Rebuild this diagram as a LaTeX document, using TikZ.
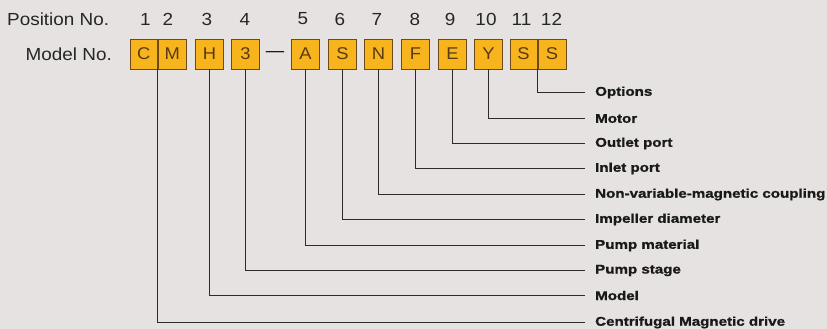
\documentclass[tikz,border=0pt]{standalone}
\usepackage{fontspec}
\setmainfont{Liberation Sans}[FakeStretch=1.08]
\newfontfamily\descfont{Liberation Sans}[FakeStretch=1.2,FakeBold=1.2]
\begin{document}
\begin{tikzpicture}[x=1pt,y=-1pt,
  codebox/.style={draw=boxedge,fill=boxfill,line width=0.9pt,minimum height=30pt,inner sep=0pt,text=boxtext,font=\fontsize{17}{17}\selectfont},
  posnum/.style={font=\fontsize{17.5}{18}\selectfont,text=black!85,inner sep=0pt},
  desc/.style={anchor=west,inner xsep=10pt,inner ysep=0pt,font=\fontsize{12.6}{13}\descfont\bfseries,text=black!90},
  conn/.style={draw=linegray,line width=1pt}]
\definecolor{boxfill}{HTML}{F8B41C}
\definecolor{boxedge}{HTML}{6E4A18}
\definecolor{boxtext}{HTML}{5A3A12}
\definecolor{linegray}{HTML}{2E2A2A}
\definecolor{bg}{HTML}{E6E2E1}
\fill[bg] (0,0) rectangle (827,329);
\useasboundingbox (0,0) rectangle (827,329);
% headings
\node[posnum,anchor=west] (poshead) at (7,19) {Position No.};
\node[posnum,anchor=east] (modhead) at (112,54) {Model No.};
% position numbers
\node[posnum] (p1) at (145.5,19) {1};
\node[posnum] (p2) at (168,19) {2};
\node[posnum] (p3) at (207,19) {3};
\node[posnum] (p4) at (245,19) {4};
\node[posnum] (p5) at (303,19) {5};
\node[posnum] (p6) at (340,19) {6};
\node[posnum] (p7) at (377,19) {7};
\node[posnum] (p8) at (415,19) {8};
\node[posnum] (p9) at (450,19) {9};
\node[posnum] (p10) at (486,19) {10};
\node[posnum] (p11) at (521.5,19) {11};
\node[posnum] (p12) at (551.5,19) {12};
% boxes
\node[codebox,minimum width=26.5pt,anchor=east] (bC) at (157.5,54) {C};
\node[codebox,minimum width=28.5pt,anchor=west] (bM) at (157.5,54) {M};
\node[codebox,minimum width=28.5pt] (bH) at (209.5,54) {H};
\node[codebox,minimum width=28pt] (b3) at (245.5,54) {3};
\node[inner sep=0pt] (dash) at (275,54) {\fontsize{17}{17}\selectfont ---};
\node[codebox,minimum width=27.5pt] (bA) at (305.5,54) {A};
\node[codebox,minimum width=28pt] (bS) at (342.5,54) {S};
\node[codebox,minimum width=28.5pt] (bN) at (378.5,54) {N};
\node[codebox,minimum width=28pt] (bF) at (415.5,54) {F};
\node[codebox,minimum width=28pt] (bE) at (452.5,54) {E};
\node[codebox,minimum width=28.5pt] (bY) at (488.5,54) {Y};
\node[codebox,minimum width=27pt,anchor=east] (bS1) at (537.5,54) {S};
\node[codebox,minimum width=28pt,anchor=west] (bS2) at (537.5,54) {S};
% descriptions
\node[desc] (d12) at (585,92.5) {Options};
\node[desc] (d10) at (585,118.5) {Motor};
\node[desc] (d9) at (585,143.5) {Outlet port};
\node[desc] (d8) at (585,168.5) {Inlet port};
\node[desc] (d7) at (585,194.5) {Non-variable-magnetic coupling};
\node[desc] (d6) at (585,219.5) {Impeller diameter};
\node[desc] (d5) at (585,245.5) {Pump material};
\node[desc] (d4) at (585,270.5) {Pump stage};
\node[desc] (d3) at (585,295.5) {Model};
\node[desc] (d1) at (585,322.5) {Centrifugal Magnetic drive};
% connectors
\draw[conn] (bS1.south east) |- (d12.west);
\draw[conn] (bY.south) |- (d10.west);
\draw[conn] (bE.south) |- (d9.west);
\draw[conn] (bF.south) |- (d8.west);
\draw[conn] (bN.south) |- (d7.west);
\draw[conn] (bS.south) |- (d6.west);
\draw[conn] (bA.south) |- (d5.west);
\draw[conn] (b3.south) |- (d4.west);
\draw[conn] (bH.south) |- (d3.west);
\draw[conn] (bC.south east) |- (d1.west);
\end{tikzpicture}
\end{document}
